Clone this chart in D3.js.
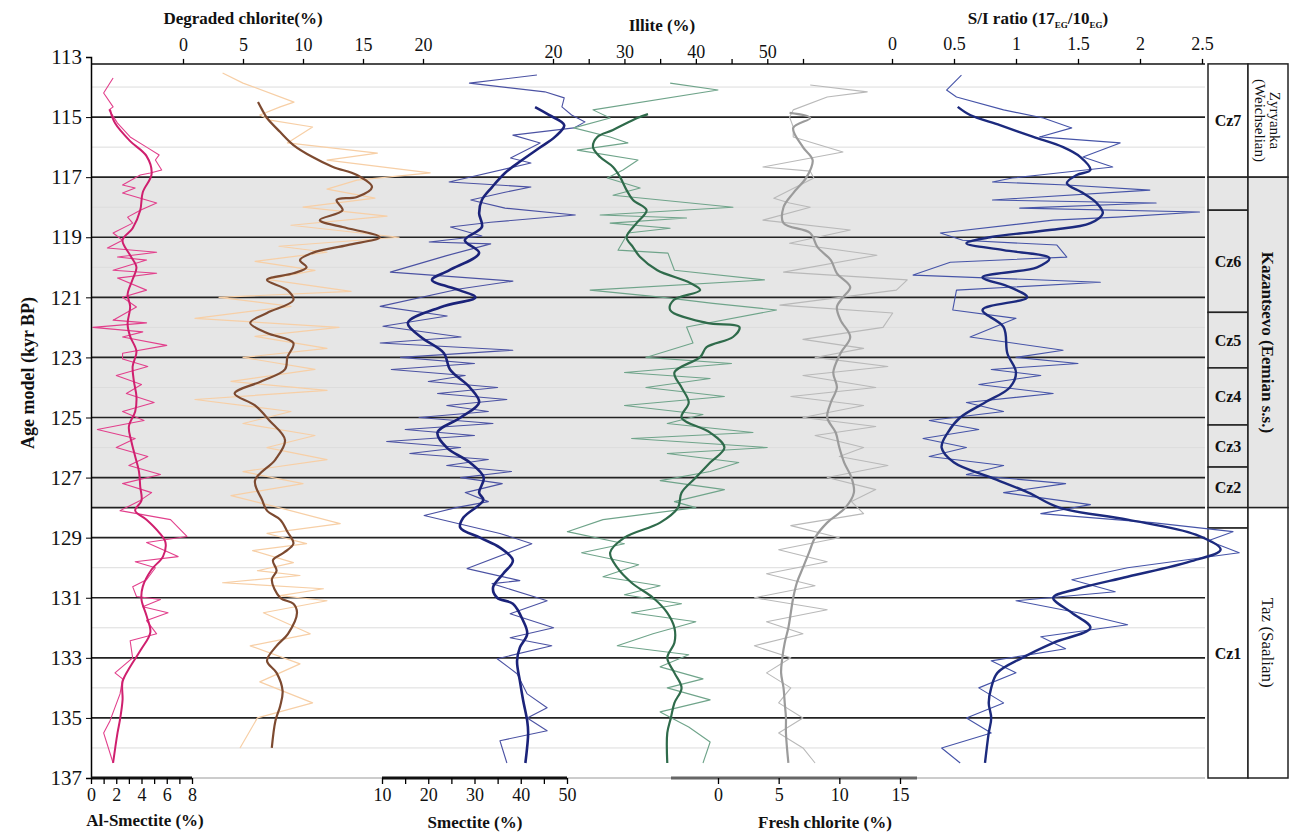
<!DOCTYPE html>
<html>
<head>
<meta charset="utf-8">
<script src="https://cdn.jsdelivr.net/npm/d3@7"></script>
<style>
  body { margin: 0; background: #fff; }
  svg text { font-family: "Liberation Serif", "Times New Roman", serif; fill: #111; }
</style>
</head>
<body>
<div id="chart"></div>
<script>
// age ticks and zone data
const ageTicks = [113, 115, 117, 119, 121, 123, 125, 127, 129, 131, 133, 135, 137];
const boldLines = [115, 117, 119, 121, 123, 125, 127, 128, 129, 131, 133, 135];
const thinLines = [114, 116, 118, 120, 122, 124, 126, 130, 132, 134, 136];
const shadedZone = [117, 128];
const czZones = [
  { name: "Cz7", from: 113.23, to: 117, shade: false },
  { name: "", from: 117, to: 118.1, shade: true },
  { name: "Cz6", from: 118.1, to: 121.5, shade: true },
  { name: "Cz5", from: 121.5, to: 123.35, shade: true },
  { name: "Cz4", from: 123.35, to: 125.25, shade: true },
  { name: "Cz3", from: 125.25, to: 126.65, shade: true },
  { name: "Cz2", from: 126.65, to: 128, shade: true },
  { name: "", from: 128, to: 128.68, shade: false },
  { name: "Cz1", from: 128.68, to: 137, shade: false }
];
const stages = [
  { lines: ["Zyryanka", "(Weichselian)"], from: 113.23, to: 117, bold: false, shade: false },
  { lines: ["Kazantsevo (Eemian s.s.)"], from: 117, to: 128, bold: true, shade: true },
  { lines: ["Taz (Saalian)"], from: 128, to: 137, bold: false, shade: false }
];

// Al-smectite (%) [age, value]
const alSmecRaw = [[113.7,1.75],[114.2,1.0],[114.66,1.75],[114.76,1.43],[115.2,2.1],[115.66,3.1],[116.0,4.4],[116.26,5.4],[116.43,5.1],[116.76,5.6],[116.86,4.7],[116.93,3.9],[117.26,2.5],[117.36,3.5],[117.53,2.5],[117.86,5.2],[118.1,3.9],[118.33,2.9],[118.53,3.3],[118.86,1.75],[119.1,2.5],[119.36,1.3],[119.5,5.2],[119.66,2.1],[119.76,4.4],[120.1,1.75],[120.2,5.2],[120.36,2.1],[120.76,4.4],[121.0,2.5],[121.32,3.6],[121.76,1.75],[121.85,4.4],[122.0,0.15],[122.15,4.1],[122.32,2.5],[122.6,6.0],[122.86,2.5],[123.05,2.5],[123.3,4.5],[123.6,2.0],[123.9,4.0],[124.2,2.8],[124.5,5.0],[124.8,2.5],[125.1,4.2],[125.4,0.5],[125.7,3.5],[126.0,2.0],[126.3,4.5],[126.6,3.0],[126.9,5.5],[127.2,2.5],[127.5,4.8],[127.76,3.9],[128.1,2.3],[128.4,6.3],[128.96,7.6],[129.16,4.4],[129.63,6.9],[129.8,3.5],[130.0,5.1],[130.4,4.4],[130.63,3.3],[130.96,3.6],[131.06,5.5],[131.3,4.1],[131.5,6.1],[131.76,4.4],[132.2,5.2],[132.43,3.1],[133.0,3.3],[133.5,1.9],[133.7,2.5],[134.2,2.3],[135.1,1.5],[135.5,1.0],[136.5,1.75]];
const alSmecSmooth = [[114.75,1.5],[115.2,1.9],[115.8,3.1],[116.3,4.4],[116.9,4.8],[117.5,4.1],[118.1,3.9],[118.7,3.3],[119.1,2.5],[119.6,3.1],[120.0,3.6],[120.4,3.3],[120.9,2.9],[121.3,3.1],[121.9,2.9],[122.3,3.1],[122.8,3.6],[123.3,3.3],[123.8,3.4],[124.3,3.6],[124.8,3.5],[125.3,3.0],[125.8,3.2],[126.3,3.5],[126.8,3.8],[127.3,3.9],[127.76,4.0],[128.1,3.5],[128.4,4.4],[128.83,5.4],[129.16,5.9],[129.63,5.7],[130.06,4.8],[130.63,4.1],[131.06,4.0],[131.6,4.4],[132.15,4.7],[132.7,4.0],[133.3,3.1],[133.8,2.5],[134.4,2.5],[135.05,2.3],[135.5,2.1],[136.5,1.75]];

// degraded chlorite (%)
const degChlRaw = [[113.53,3.3],[113.87,5.0],[114.5,9.25],[114.66,8.1],[114.93,6.4],[115.1,7.25],[115.33,10.8],[115.86,8.7],[116.2,16.2],[116.43,12.0],[116.86,20.6],[117.1,14.5],[117.4,12],[117.7,16],[118.0,10],[118.3,17],[118.6,9],[119.0,18],[119.3,8],[119.5,12],[119.8,6],[120.1,11],[120.4,7],[120.8,14],[121.0,3],[121.3,9],[121.7,1],[122.0,13],[122.3,6],[122.7,12],[123.0,5],[123.4,11],[123.8,4],[124.1,12],[124.4,1],[124.8,9],[125.2,5],[125.6,11],[126.0,7],[126.4,12],[126.8,5],[127.2,10],[127.6,4],[128.0,8],[128.53,13.1],[128.86,7.0],[129.2,10.3],[129.43,5.8],[129.83,9.2],[130.1,6.2],[130.26,9.75],[130.5,3.3],[130.7,11.7],[130.93,8.1],[131.1,12.0],[131.5,6.7],[132.2,10.6],[132.6,5.6],[133.2,9.75],[133.8,6.4],[134.5,10.8],[135.0,6.2],[136.0,4.75]];
const degChlSmooth = [[114.5,6.25],[114.76,6.6],[115.03,7.0],[115.5,8.1],[115.93,9.2],[116.33,10.8],[116.66,12.5],[116.93,14.5],[117.33,15.75],[117.66,14.5],[117.76,12.8],[118.1,13.3],[118.43,11.4],[118.66,13.3],[119.0,16.4],[119.26,13.7],[119.52,10.8],[119.76,9.75],[120.0,10.3],[120.2,9.2],[120.42,7.0],[120.76,8.7],[121.09,9.2],[121.52,7.0],[121.85,5.6],[122.19,7.0],[122.52,9.2],[122.99,8.7],[123.4,8.5],[123.8,6.5],[124.2,4.3],[124.6,6.0],[125.1,7.2],[125.75,8.5],[126.4,7.7],[127.1,6.0],[127.75,6.6],[128.1,7.0],[128.4,8.1],[128.8,8.7],[129.2,9.2],[129.5,8.4],[129.75,7.5],[130.1,7.8],[130.4,7.4],[131.0,8.1],[131.2,9.2],[131.5,9.5],[132.2,8.75],[132.6,7.8],[133.1,7.0],[133.5,7.8],[134.1,8.3],[134.6,8.1],[135.1,7.7],[136.0,7.4]];

// smectite (%)
const smecRaw = [[113.6,43.5],[113.87,28.9],[114.16,45.2],[114.36,49.4],[114.66,48.9],[114.93,51.0],[115.16,53.9],[115.36,51.5],[115.6,38.3],[115.86,44.2],[116.36,37.8],[116.53,42.2],[117.16,24.5],[117.33,42.2],[117.5,36.6],[117.76,29.2],[118.03,36.6],[118.26,51.8],[118.5,33.5],[118.66,24.8],[118.96,31.6],[119.16,20.2],[119.22,33.5],[119.62,23.8],[120.16,11.8],[120.46,38.3],[120.72,26.7],[121.3,9.6],[121.62,24.1],[121.96,10.2],[122.32,27.1],[122.52,9.6],[122.76,38.3],[123.0,14],[123.2,30],[123.4,12],[123.6,28],[123.8,20],[124.0,35],[124.2,22],[124.4,37],[124.6,24],[124.8,33],[125.0,18],[125.2,34],[125.4,15],[125.6,30],[125.8,11],[126.0,27],[126.2,16],[126.4,33],[126.6,24],[126.8,38],[127.0,27],[127.2,36],[127.5,28],[127.8,33],[128.0,26],[128.26,19.1],[128.86,35.5],[129.2,42.4],[130.03,28.4],[130.43,39.8],[130.53,33.8],[131.1,45.7],[131.53,37.7],[132.0,47.1],[132.33,37.7],[132.6,46.7],[133.03,34.9],[133.53,39.2],[134.2,41.4],[134.66,45.7],[135.0,41.4],[135.43,45.7],[135.76,35.5],[136.5,37.0]];
const smecSmooth = [[114.67,43.1],[114.93,46.1],[115.27,49.4],[115.66,47.4],[116.03,44.0],[116.43,40.3],[116.86,36.6],[117.33,33.8],[117.76,31.6],[118.2,31.0],[118.66,31.6],[119.1,27.9],[119.52,31.0],[120.1,24.5],[120.42,20.8],[120.76,26.7],[121.0,30.2],[121.32,22.8],[121.85,15.6],[122.32,18.4],[122.86,23.4],[123.4,24.7],[124.0,29],[124.5,31],[125.0,27],[125.5,22],[126.0,24],[126.5,29],[127.0,32],[127.5,31],[127.75,31.9],[128.33,27.6],[128.66,26.9],[129.0,31.2],[129.33,35.5],[129.76,38.3],[130.2,36.2],[130.66,34.0],[131.0,34.9],[131.2,38.3],[131.76,40.5],[132.2,41.4],[132.66,39.8],[133.1,39.2],[133.76,39.8],[134.4,40.5],[135.1,41.4],[135.5,41.6],[136.5,41.0]];

// illite (%)
const illRaw = [[113.87,36.4],[114.1,43.1],[114.76,25.6],[115.03,28.0],[115.36,22.9],[115.66,28.0],[115.86,30.5],[116.1,23.4],[116.43,31.9],[116.76,29.8],[117.03,27.6],[117.36,32.2],[117.6,28.4],[118.0,45.2],[118.26,26.6],[118.36,38.7],[118.53,28.0],[118.7,36.4],[118.86,30.5],[119.43,29.1],[119.53,36.1],[120.1,37.0],[120.42,49.6],[120.76,25.2],[121.0,35.4],[121.2,42.4],[121.42,51.3],[121.99,38.7],[122.52,39.6],[123.0,33],[123.2,45],[123.5,30],[123.7,42],[124.0,33],[124.3,44],[124.6,30],[124.9,41],[125.2,36],[125.5,48],[125.7,31],[126.0,50],[126.2,36],[126.5,46],[126.8,42],[127.1,35],[127.4,44],[127.8,37],[128.0,40],[128.4,27],[128.8,22],[129.2,30],[129.5,24],[129.9,32],[130.3,27],[130.6,35],[130.9,30],[131.2,38],[131.5,31],[131.8,40],[132.2,34],[132.6,29],[132.9,39],[133.3,35],[133.7,41],[134.0,36],[134.4,42],[134.8,35],[135.3,39],[135.8,42],[136.5,41]];
const illSmooth = [[114.9,33.3],[115.03,31.8],[115.43,28.4],[115.66,26.2],[116.0,25.6],[116.33,26.6],[116.66,28.4],[117.0,29.4],[117.43,30.3],[117.76,31.2],[118.1,33.1],[118.53,31.7],[119.0,30.3],[119.33,31.2],[119.66,32.2],[120.1,34.6],[120.52,39.2],[120.76,40.6],[121.09,36.9],[121.42,36.4],[121.85,41.5],[121.99,46.1],[122.32,45.2],[122.66,41.5],[122.99,40.6],[123.5,37],[124.0,38],[124.5,39],[125.0,38],[125.5,42],[126.0,44],[126.5,42],[127.0,40],[127.5,38],[128.0,37.5],[128.5,35],[129.0,30],[129.5,28],[130.0,29],[130.5,31],[131.0,34],[131.5,36],[132.0,37],[132.5,37],[133.0,36],[133.5,37],[134.0,38],[134.5,37],[135.0,36.5],[135.5,36],[136.5,36]];

// fresh chlorite (%)
const frChlRaw = [[113.93,7.6],[114.16,12.3],[114.33,9.0],[114.76,6.2],[115.0,5.9],[115.33,6.2],[115.66,6.2],[116.16,10.3],[116.66,3.7],[116.8,7.6],[117.03,7.9],[117.7,4.6],[117.86,5.9],[118.0,7.6],[118.43,3.7],[118.76,10.9],[119.2,5.9],[119.6,13.1],[120.16,5.4],[120.42,15.6],[120.76,14.7],[121.26,5.1],[121.52,14.4],[122.0,13.6],[122.4,7],[122.7,12],[123.0,8],[123.3,14],[123.6,7],[124.0,13],[124.3,6],[124.6,12],[125.0,7],[125.3,13],[125.6,8],[126.0,12],[126.3,10],[126.6,14],[127.0,9],[127.4,13],[127.8,11],[128.2,12],[128.6,6],[129.0,10],[129.4,5],[129.8,9],[130.2,4],[130.6,8],[131.0,3],[131.4,9],[131.8,4],[132.2,7],[132.6,3],[133.0,6],[133.5,4],[134.0,6],[134.5,5],[135.0,7],[135.5,5],[136.0,7],[136.5,8]];
const frChlSmooth = [[114.86,5.9],[115.03,7.6],[115.36,6.2],[116.0,7.0],[116.43,7.8],[117.0,7.3],[117.53,6.2],[118.0,5.4],[118.53,5.4],[118.86,7.6],[119.33,8.2],[119.76,9.3],[120.2,9.8],[120.66,10.9],[121.0,10.3],[121.32,9.8],[121.76,10.1],[122.32,10.9],[122.86,10.1],[123.5,9.5],[124.0,9.8],[124.5,9.3],[125.0,9.0],[125.5,9.7],[126.0,10],[126.5,10.4],[127.0,11],[127.5,11.2],[128.0,10.5],[128.5,9],[129.0,8],[129.5,7.5],[130.0,7],[130.5,6.5],[131.0,6.2],[131.5,6],[132.0,5.8],[132.5,5.5],[133.0,5.3],[133.5,5.2],[134.0,5.4],[134.5,5.5],[135.0,5.6],[135.5,5.6],[136.5,5.8]];

// S/I ratio
const siRaw = [[113.6,0.56],[114.1,0.44],[114.33,0.52],[114.76,0.9],[115.03,1.22],[115.36,1.45],[115.66,1.19],[115.86,1.84],[116.33,1.54],[116.66,1.78],[116.93,1.19],[117.03,0.97],[117.16,0.81],[117.26,1.41],[117.43,2.08],[117.76,0.81],[117.86,2.13],[118.03,1.03],[118.16,2.48],[118.33,1.82],[118.43,1.30],[118.86,0.39],[119.1,0.57],[119.26,1.33],[119.66,1.41],[119.83,0.47],[120.26,0.17],[120.5,1.68],[120.76,0.52],[121.42,0.49],[121.7,1.0],[122.32,0.63],[122.76,1.38],[123.0,1.0],[123.2,1.5],[123.4,0.8],[123.6,1.2],[123.9,0.7],[124.2,1.3],[124.5,0.6],[124.8,0.9],[125.1,0.3],[125.4,0.7],[125.7,0.25],[126.0,0.6],[126.3,0.3],[126.6,0.9],[126.9,0.6],[127.2,1.4],[127.5,0.9],[127.9,1.6],[128.2,1.2],[128.5,2.1],[128.8,2.75],[129.1,2.55],[129.5,2.8],[130.0,1.9],[130.4,1.45],[130.8,1.8],[131.1,1.0],[131.5,1.5],[131.9,1.9],[132.3,1.2],[132.7,1.4],[133.1,0.8],[133.5,1.0],[134.0,0.7],[134.5,0.9],[135.0,0.6],[135.5,0.8],[136.0,0.4],[136.5,0.55]];
const siSmooth = [[114.66,0.53],[114.93,0.63],[115.27,0.87],[115.66,1.14],[116.0,1.38],[116.33,1.52],[116.76,1.6],[116.93,1.49],[117.2,1.41],[117.53,1.54],[117.86,1.65],[118.2,1.70],[118.53,1.6],[118.76,1.27],[119.0,0.79],[119.2,0.6],[119.43,0.9],[119.7,1.27],[120.0,1.17],[120.33,0.73],[120.66,0.95],[121.0,1.09],[121.42,0.73],[121.99,0.9],[122.86,0.93],[123.5,1.0],[124.0,0.95],[124.5,0.75],[125.0,0.55],[125.5,0.45],[126.0,0.4],[126.5,0.5],[127.0,0.8],[127.5,1.1],[128.0,1.35],[128.4,1.9],[128.9,2.45],[129.4,2.65],[129.8,2.4],[130.3,1.9],[130.7,1.5],[131.0,1.3],[131.5,1.45],[132.0,1.6],[132.5,1.3],[133.0,1.05],[133.5,0.85],[134.0,0.8],[134.5,0.78],[135.0,0.8],[135.5,0.78],[136.5,0.75]];

const width = 1295, height = 833;
const plotL = 91, plotR = 1205;
const col1 = [1208, 1248], col2 = [1248, 1288];
const serif = "Liberation Serif, Times New Roman, serif";

const svg = d3.select("#chart").append("svg")
  .attr("width", width)
  .attr("height", height)
  .attr("font-family", serif);

const y = d3.scaleLinear().domain([113, 137]).range([57, 778]);
const xAl = d3.scaleLinear().domain([0, 8]).range([91, 192]);
const xDeg = d3.scaleLinear().domain([0, 20]).range([183, 423]);
const xSm = d3.scaleLinear().domain([10, 50]).range([382, 567]);
const xIl = d3.scaleLinear().domain([20, 55]).range([553, 803]);
const xFr = d3.scaleLinear().domain([0, 15]).range([718, 900]);
const xSI = d3.scaleLinear().domain([0, 2.5]).range([892, 1202]);

const topY = y(113.23), botY = y(137);

// shaded interglacial band
svg.append("rect")
  .attr("x", plotL).attr("y", y(shadedZone[0]))
  .attr("width", plotR - plotL).attr("height", y(shadedZone[1]) - y(shadedZone[0]))
  .attr("fill", "#e6e6e6");

// grid lines
svg.selectAll(".thinline").data(thinLines).join("line")
  .attr("x1", plotL).attr("x2", plotR)
  .attr("y1", d => y(d)).attr("y2", d => y(d))
  .attr("stroke", "#dcdcdc").attr("stroke-width", 1);
svg.selectAll(".boldline").data(boldLines).join("line")
  .attr("x1", plotL).attr("x2", plotR)
  .attr("y1", d => y(d)).attr("y2", d => y(d))
  .attr("stroke", "#222").attr("stroke-width", 1.6);

// right columns: Cz zones (drawn before curves, S/I overruns them)
const cz = svg.append("g");
cz.selectAll("rect").data(czZones).join("rect")
  .attr("x", col1[0]).attr("width", col1[1] - col1[0])
  .attr("y", d => y(d.from)).attr("height", d => y(d.to) - y(d.from))
  .attr("fill", d => d.shade ? "#e6e6e6" : "#fff")
  .attr("stroke", "#222").attr("stroke-width", 1.5);
cz.selectAll("text").data(czZones.filter(d => d.name)).join("text")
  .attr("x", (col1[0] + col1[1]) / 2)
  .attr("y", d => (y(d.from) + y(d.to)) / 2)
  .attr("dy", "0.35em").attr("text-anchor", "middle")
  .attr("font-weight", "bold").attr("font-size", 16)
  .text(d => d.name);

const st = svg.append("g");
st.selectAll("rect").data(stages).join("rect")
  .attr("x", col2[0]).attr("width", col2[1] - col2[0])
  .attr("y", d => y(d.from)).attr("height", d => y(d.to) - y(d.from))
  .attr("fill", d => d.shade ? "#e6e6e6" : "#fff")
  .attr("stroke", "#222").attr("stroke-width", 1.5);
stages.forEach(s => {
  const cx = (col2[0] + col2[1]) / 2, cy = (y(s.from) + y(s.to)) / 2;
  const n = s.lines.length;
  s.lines.forEach((t, i) => {
    const off = (i - (n - 1) / 2) * -15;
    svg.append("text")
      .attr("transform", `translate(${cx + off},${cy}) rotate(90)`)
      .attr("text-anchor", "middle").attr("dy", "0.35em")
      .attr("font-weight", s.bold ? "bold" : "normal")
      .attr("font-size", n > 1 ? 15 : 17)
      .text(t);
  });
});

// curves
function drawSeries(data, xs, color, w, smooth) {
  const line = d3.line()
    .x(d => xs(d[1]))
    .y(d => y(d[0]))
    .curve(smooth ? d3.curveCatmullRom : d3.curveLinear);
  svg.append("path").datum(data)
    .attr("fill", "none").attr("stroke", color)
    .attr("stroke-width", w).attr("stroke-linejoin", "round")
    .attr("d", line);
}

drawSeries(degChlRaw, xDeg, "#f7cfa6", 1.2, false);
drawSeries(alSmecRaw, xAl, "#e2408c", 1.1, false);
drawSeries(smecRaw, xSm, "#4b52a3", 1.1, false);
drawSeries(illRaw, xIl, "#6fa48a", 1.1, false);
drawSeries(frChlRaw, xFr, "#b9b9b9", 1.1, false);
drawSeries(siRaw, xSI, "#4654a8", 1.1, false);

drawSeries(alSmecSmooth, xAl, "#cf1f6e", 2, true);
drawSeries(degChlSmooth, xDeg, "#7d4a30", 2.2, true);
drawSeries(smecSmooth, xSm, "#1b237a", 2.6, true);
drawSeries(illSmooth, xIl, "#2f6b4b", 2.2, true);
drawSeries(frChlSmooth, xFr, "#9b9b9b", 2.2, true);
drawSeries(siSmooth, xSI, "#1c2a7e", 2.4, true);

// frame: top line, y-axis, bottom line
svg.append("line").attr("x1", plotL).attr("x2", plotR)
  .attr("y1", topY).attr("y2", topY).attr("stroke", "#111").attr("stroke-width", 1.5);
svg.append("line").attr("x1", plotL).attr("x2", plotR)
  .attr("y1", botY).attr("y2", botY).attr("stroke", "#999").attr("stroke-width", 1);

const yAxis = svg.append("g")
  .attr("transform", `translate(${plotL},0)`)
  .call(d3.axisLeft(y).tickValues(ageTicks).tickSize(5).tickFormat(d3.format("d")));
yAxis.attr("font-family", serif).attr("font-size", 21);
yAxis.select(".domain").attr("stroke-width", 1.5);
yAxis.selectAll("text").attr("x", -9);

svg.append("text")
  .attr("transform", `translate(28,373) rotate(-90)`)
  .attr("text-anchor", "middle").attr("dy", "0.35em")
  .attr("font-weight", "bold").attr("font-size", 18)
  .text("Age model (kyr BP)");

// top axes
function topAxis(xs, vals, labels, labelY) {
  const g = svg.append("g").attr("transform", `translate(0,${topY})`)
    .call(d3.axisTop(xs).tickValues(vals).tickSize(5)
      .tickFormat(d => labels.includes(d) ? String(d) : ""));
  g.attr("font-family", serif).attr("font-size", 18);
  g.select(".domain").remove();
  g.selectAll("text").attr("y", labelY - topY).attr("dy", "0.35em");
  g.selectAll("line").attr("stroke-width", 1.3);
}
topAxis(xDeg, [0, 5, 10, 15, 20], [0, 5, 10, 15, 20], 45);
topAxis(xIl, [20, 25, 30, 35, 40, 45, 50, 55], [20, 30, 40, 50], 52);
topAxis(xSI, [0, 0.5, 1, 1.5, 2, 2.5], [0, 0.5, 1, 1.5, 2, 2.5], 44);

function title(x, yPos, txt) {
  return svg.append("text").attr("x", x).attr("y", yPos)
    .attr("text-anchor", "middle").attr("font-weight", "bold").attr("font-size", 17)
    .text(txt);
}
title(243, 24, "Degraded chlorite(%)");
title(662, 31, "Illite (%)");
const siTitle = svg.append("text").attr("x", 1038).attr("y", 24)
  .attr("text-anchor", "middle").attr("font-weight", "bold").attr("font-size", 17);
siTitle.append("tspan").text("S/I ratio (17");
siTitle.append("tspan").text("EG").attr("font-size", 9).attr("dy", 4);
siTitle.append("tspan").text("/10").attr("dy", -4);
siTitle.append("tspan").text("EG").attr("font-size", 9).attr("dy", 4);
siTitle.append("tspan").text(")").attr("dy", -4);

// bottom axes
function bottomAxis(xs, vals, labels, lineExt, lineColor) {
  svg.append("line").attr("x1", lineExt[0]).attr("x2", lineExt[1])
    .attr("y1", botY).attr("y2", botY)
    .attr("stroke", lineColor).attr("stroke-width", 3);
  const g = svg.append("g").attr("transform", `translate(0,${botY})`)
    .call(d3.axisBottom(xs).tickValues(vals).tickSize(6)
      .tickFormat(d => labels.includes(d) ? String(d) : ""));
  g.attr("font-family", serif).attr("font-size", 18);
  g.select(".domain").remove();
  g.selectAll("text").attr("y", 23).attr("dy", "0");
  g.selectAll("line").attr("stroke-width", 1.3);
}
bottomAxis(xAl, d3.range(0, 9), [0, 2, 4, 6, 8], [91, 192], "#111");
bottomAxis(xSm, d3.range(10, 51, 5), [10, 20, 30, 40, 50], [382, 567], "#111");
bottomAxis(xFr, [0, 5, 10, 15], [0, 5, 10, 15], [671, 917], "#666");

title(145, 826, "Al-Smectite (%)");
title(475, 828, "Smectite (%)");
title(825, 828, "Fresh chlorite (%)");
</script>
</body>
</html>
